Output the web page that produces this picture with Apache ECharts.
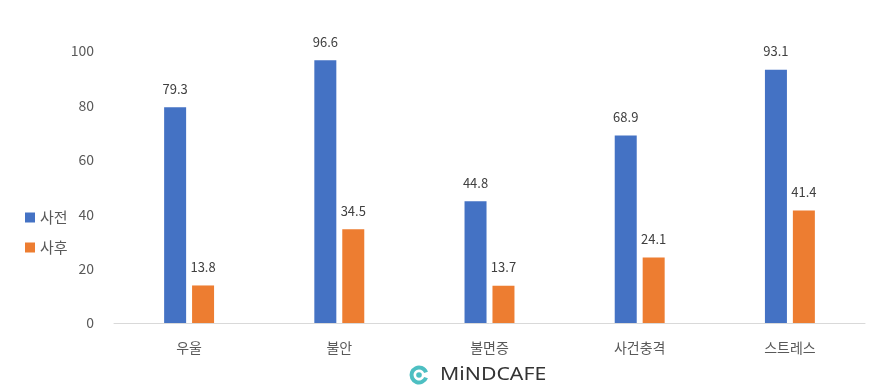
<!DOCTYPE html>
<html><head><meta charset="utf-8">
<script src="https://cdn.jsdelivr.net/npm/echarts@6/dist/echarts.min.js"></script>
<style>html,body{margin:0;padding:0;background:#fff}#c{width:886px;height:389px}</style>
</head><body><div id="c"></div>
<script>
const categories = ['우울','불안','불면증','사건충격','스트레스'];
const before = [79.3, 96.6, 44.8, 68.9, 93.1];
const after = [13.8, 34.5, 13.7, 24.1, 41.4];
const yTicks = {min:0, max:100, interval:20};

const chart = echarts.init(document.getElementById('c'));
const font = '"Malgun Gothic","Noto Sans CJK KR","Noto Sans",sans-serif';
chart.setOption({
  animation:false,
  textStyle:{fontFamily:font},
  grid:{left:114,right:21,top:51,bottom:66,containLabel:false},
  legend:{
    orient:'vertical', left:20, top:205, itemWidth:10, itemHeight:10, itemGap:15,
    icon:'rect',
    textStyle:{color:'#595959',fontSize:15,fontFamily:font},
    data:['사전','사후']
  },
  xAxis:{
    type:'category', data:categories,
    axisLine:{lineStyle:{color:'#d9d9d9'}}, axisTick:{show:false},
    axisLabel:{color:'#595959',fontSize:14,margin:18,fontFamily:font}
  },
  yAxis:{
    type:'value', min:yTicks.min, max:yTicks.max, interval:yTicks.interval,
    splitLine:{show:false}, axisLine:{show:false}, axisTick:{show:false},
    axisLabel:{color:'#595959',fontSize:14,margin:20,fontFamily:font}
  },
  series:[
    {name:'사전',type:'bar',data:before,barWidth:22,barGap:'27%',
     itemStyle:{color:'#4472C4'},
     label:{show:true,position:'top',distance:12,color:'#404040',fontSize:13,fontFamily:font}},
    {name:'사후',type:'bar',data:after,barWidth:22,
     itemStyle:{color:'#ED7D31'},
     label:{show:true,position:'top',distance:12,color:'#404040',fontSize:13,fontFamily:font}}
  ],
  graphic:[
    {type:'arc',shape:{cx:419,cy:375,r:7.5,startAngle:0.35,endAngle:Math.PI*2-0.35},style:{fill:'none',stroke:'#4dbfc2',lineWidth:4}},
    {type:'circle',shape:{cx:419,cy:375,r:2.8},style:{fill:'#4dbfc2'}},
    {type:'text',x:440,y:366,scaleX:1.18,style:{text:'MiNDCAFE',fill:'#333333',font:'400 18px "Noto Sans", sans-serif',textVerticalAlign:'top'}}
  ]
});
</script></body></html>
